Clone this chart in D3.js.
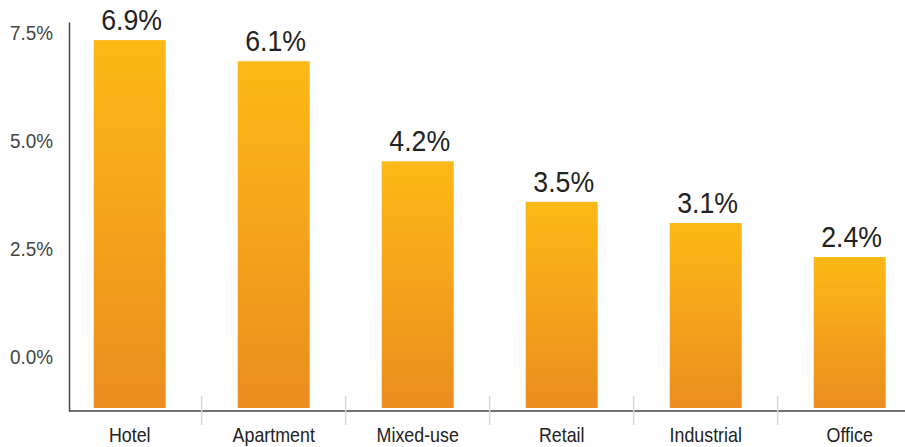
<!DOCTYPE html>
<html lang="en">
<head>
    <meta charset="utf-8">
    <script src="https://d3js.org/d3.v7.min.js"></script>
    <style>
        body { margin: 0; padding: 0; background: #fff; }
        text { font-family: "Liberation Sans", Arial, sans-serif; }
    </style>
</head>
<body>
    <svg id="chart" width="905" height="447"></svg>
    <script>
        // categories and values (bar heights as drawn, labels as printed)
        var categories = ["Hotel", "Apartment", "Mixed-use", "Retail", "Industrial", "Office"];
        var barValues = [7.34, 6.85, 4.53, 3.59, 3.10, 2.31];
        var labelValues = [6.9, 6.1, 4.2, 3.5, 3.1, 2.4];
        var yTicks = [0, 2.5, 5.0, 7.5];

        var svg = d3.select("#chart");

        // squeeze text horizontally to get a condensed look
        function condense(sel, k) {
            sel.each(function () {
                var t = d3.select(this);
                var x0 = +t.attr("x") || 0;
                t.attr("x", x0 / k).attr("transform", "scale(" + k + ",1)");
            });
        }

        var x = d3.scaleBand()
            .domain(categories)
            .range([57.7, 921.7])
            .paddingInner(0.5)
            .paddingOuter(0.25);

        var y = d3.scaleLinear()
            .domain([-1.26, 7.76])
            .range([411, 22]);

        // gradient for the bars
        var grad = svg.append("defs").append("linearGradient")
            .attr("id", "barGrad")
            .attr("x1", 0).attr("y1", 0).attr("x2", 0).attr("y2", 1);
        grad.append("stop").attr("offset", "0%").attr("stop-color", "#fcb916");
        grad.append("stop").attr("offset", "100%").attr("stop-color", "#ec8d1f");

        // bars
        svg.append("g")
            .selectAll("rect")
            .data(categories)
            .enter()
            .append("rect")
            .attr("x", function (d) { return x(d); })
            .attr("width", x.bandwidth())
            .attr("y", function (d, i) { return y(barValues[i]); })
            .attr("height", function (d, i) { return y.range()[0] - 3 - y(barValues[i]); })
            .attr("fill", "url(#barGrad)");

        // value labels
        svg.append("g")
            .selectAll("text")
            .data(categories)
            .enter()
            .append("text")
            .attr("x", function (d) { return x(d) + x.bandwidth() / 2 + 2; })
            .attr("y", function (d, i) { return y(barValues[i]) - 10; })
            .attr("text-anchor", "middle")
            .attr("font-size", 30)
            .attr("fill", "#222")
            .text(function (d, i) { return labelValues[i].toFixed(1) + "%"; })
            .call(condense, 0.89);

        // y axis
        var yAxis = svg.append("g")
            .attr("transform", "translate(69,0)")
            .call(d3.axisLeft(y).tickValues(yTicks).tickSize(0).tickPadding(16)
                .tickFormat(function (d) { return d.toFixed(1) + "%"; }));
        yAxis.select(".domain").attr("stroke", "#444").attr("stroke-width", 1.5);
        yAxis.selectAll("text")
            .attr("font-size", 21)
            .attr("fill", "#444")
            .style("font-family", "\"Liberation Sans\", Arial, sans-serif")
            .call(condense, 0.9);

        // x axis
        var xAxis = svg.append("g")
            .attr("transform", "translate(0,411)")
            .call(d3.axisBottom(x).tickSize(0).tickPadding(16));
        xAxis.select(".domain").attr("d", "M69,0H905").attr("stroke", "#444").attr("stroke-width", 1.5);
        xAxis.selectAll("text")
            .attr("font-size", 21)
            .attr("fill", "#222")
            .style("font-family", "\"Liberation Sans\", Arial, sans-serif")
            .call(condense, 0.85);

        // separators between categories
        svg.append("g")
            .selectAll("line")
            .data(categories.slice(1))
            .enter()
            .append("line")
            .attr("x1", function (d) { return x(d) - x.step() * 0.25; })
            .attr("x2", function (d) { return x(d) - x.step() * 0.25; })
            .attr("y1", 396)
            .attr("y2", 425)
            .attr("stroke", "#d6d6d6")
            .attr("stroke-width", 1.5);
    </script>
</body>
</html>
